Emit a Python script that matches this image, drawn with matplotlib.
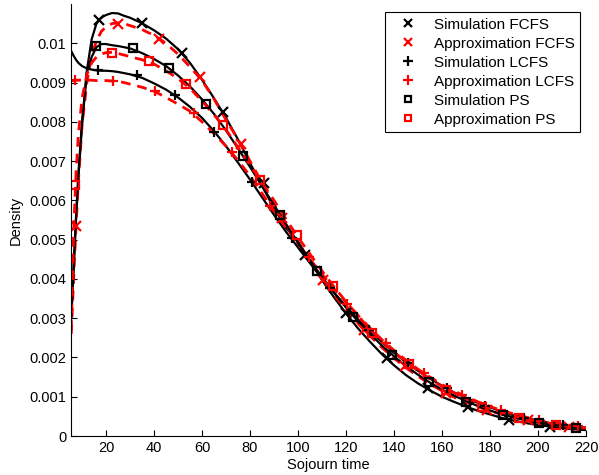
import numpy as np
import matplotlib.pyplot as plt
from matplotlib.ticker import FormatStrFormatter

# x grid for the density curves
x_curve = [5.5, 6.5, 7.5, 8.5, 10, 12, 14, 16, 18, 20, 22.5, 25, 27.5, 30,
           35, 40, 45, 50, 55, 60, 65, 70, 75, 80, 85, 90, 95, 100, 105, 110,
           115, 120, 125, 130, 135, 140, 145, 150, 155, 160, 165, 170, 175,
           180, 185, 190, 195, 200, 205, 210, 215, 220]

# densities (x 1e-3)
fcfs_sim = [3.0, 4.3, 5.5, 6.6, 7.9, 9.3, 10.1, 10.5, 10.65, 10.72, 10.77, 10.76, 10.7, 10.65,
            10.51, 10.33, 10.12, 9.85, 9.5, 9.07, 8.6, 8.1, 7.55, 6.95, 6.37, 5.8, 5.3, 4.95,
            4.45, 3.97, 3.53, 3.12, 2.74, 2.4, 2.08, 1.8, 1.55, 1.34, 1.16, 1.0, 0.87, 0.75,
            0.64, 0.55, 0.46, 0.39, 0.33, 0.28, 0.24, 0.2, 0.17, 0.15]
fcfs_apx = [2.6, 4.0, 5.34, 6.5, 7.9, 9.0, 9.7, 10.05, 10.3, 10.42, 10.5, 10.52, 10.5, 10.45,
            10.35, 10.2, 10.0, 9.72, 9.4, 9.05, 8.58, 8.05, 7.55, 7.0, 6.45, 5.9, 5.38, 4.9,
            4.45, 4.0, 3.6, 3.22, 2.87, 2.55, 2.25, 1.98, 1.74, 1.52, 1.32, 1.15, 0.99, 0.86,
            0.74, 0.64, 0.55, 0.47, 0.41, 0.35, 0.3, 0.26, 0.23, 0.2]
lcfs_sim = [9.8, 9.68, 9.58, 9.5, 9.42, 9.36, 9.33, 9.31, 9.3, 9.3, 9.29, 9.27, 9.24, 9.21,
            9.12, 8.98, 8.82, 8.62, 8.38, 8.1, 7.76, 7.38, 6.96, 6.53, 6.08, 5.63, 5.2, 4.8,
            4.4, 4.02, 3.65, 3.3, 2.97, 2.67, 2.39, 2.12, 1.88, 1.66, 1.46, 1.28, 1.11, 0.97,
            0.84, 0.73, 0.62, 0.53, 0.46, 0.39, 0.33, 0.28, 0.24, 0.21]
lcfs_apx = [9.05, 9.05, 9.06, 9.06, 9.06, 9.06, 9.06, 9.05, 9.05, 9.05, 9.04, 9.03, 9.0, 8.96,
            8.88, 8.78, 8.62, 8.45, 8.27, 8.0, 7.7, 7.38, 7.02, 6.62, 6.18, 5.73, 5.3, 4.9,
            4.5, 4.12, 3.75, 3.4, 3.07, 2.75, 2.45, 2.18, 1.93, 1.7, 1.5, 1.31, 1.15, 1.0,
            0.87, 0.75, 0.65, 0.56, 0.48, 0.41, 0.35, 0.3, 0.26, 0.22]
ps_sim = [3.0, 4.3, 5.6, 6.7, 8.0, 9.25, 9.65, 9.9, 9.98, 9.98, 9.95, 9.93, 9.9, 9.87,
          9.75, 9.6, 9.42, 9.18, 8.9, 8.57, 8.2, 7.78, 7.32, 6.85, 6.36, 5.88, 5.4, 4.92,
          4.47, 4.05, 3.65, 3.27, 2.92, 2.6, 2.3, 2.03, 1.78, 1.56, 1.36, 1.18, 1.03, 0.89,
          0.76, 0.65, 0.55, 0.47, 0.4, 0.34, 0.29, 0.25, 0.21, 0.18]
ps_apx = [2.7, 5.2, 6.7, 7.7, 8.6, 9.2, 9.5, 9.65, 9.73, 9.76, 9.77, 9.74, 9.7, 9.66,
          9.58, 9.47, 9.3, 9.1, 8.85, 8.53, 8.18, 7.8, 7.35, 6.9, 6.45, 6.0, 5.52, 5.06,
          4.63, 4.2, 3.8, 3.42, 3.06, 2.72, 2.42, 2.14, 1.89, 1.66, 1.45, 1.26, 1.1, 0.95,
          0.82, 0.7, 0.6, 0.51, 0.44, 0.37, 0.32, 0.27, 0.23, 0.2]

# marker positions (x, density x 1e-3)
fcfs_sim_mx = [17.2, 34.9, 51.5, 68.6, 85.7, 102.9, 120, 137, 154, 171, 188, 205]
fcfs_sim_my = [10.59, 10.51, 9.74, 8.25, 6.45, 4.6, 3.12, 1.99, 1.22, 0.73, 0.41, 0.24]
fcfs_apx_mx = [7.5, 24.9, 42.1, 59.2, 76.3, 93.4, 110.5, 127.6, 144.7, 161.8, 178.9, 196, 213]
fcfs_apx_my = [5.34, 10.5, 10.12, 9.14, 7.44, 5.55, 3.96, 2.7, 1.77, 1.1, 0.67, 0.4, 0.24]
lcfs_sim_mx = [16.5, 32.8, 48.8, 65.1, 81, 97.4, 113.3, 129.5, 145.7, 161.9, 178, 194.2, 210.4]
lcfs_sim_my = [9.31, 9.18, 8.68, 7.75, 6.46, 5.04, 3.77, 2.7, 1.85, 1.22, 0.77, 0.47, 0.28]
lcfs_apx_mx = [7.1, 23.1, 40.5, 56.5, 72.5, 88.5, 104.5, 120.5, 136.5, 152.5, 168.5, 184.5, 200.5, 216.5]
lcfs_apx_my = [9.06, 9.04, 8.78, 8.23, 7.23, 5.85, 4.57, 3.37, 2.37, 1.6, 1.05, 0.66, 0.41, 0.25]
ps_sim_mx = [15.8, 31.1, 46.4, 61.5, 77.2, 92.5, 108, 123, 139.2, 154.6, 170, 185.3, 200.5, 216]
ps_sim_my = [9.93, 9.87, 9.38, 8.46, 7.13, 5.64, 4.2, 3.04, 2.07, 1.38, 0.875, 0.536, 0.34, 0.2]
ps_apx_mx = [7.1, 22.4, 37.9, 53.3, 68.9, 84.2, 99.4, 114.7, 130.9, 146.25, 161.5, 176.8, 192, 207.4]
ps_apx_my = [6.39, 9.76, 9.55, 8.97, 7.91, 6.53, 5.11, 3.81, 2.63, 1.83, 1.17, 0.75, 0.47, 0.28]

labels = ['Simulation FCFS', 'Approximation FCFS', 'Simulation LCFS',
          'Approximation LCFS', 'Simulation PS', 'Approximation PS']

plt.rcParams['font.family'] = ['Liberation Sans', 'DejaVu Sans']
plt.rcParams['font.size'] = 10

fig = plt.figure(figsize=(5.99, 4.75), dpi=100)
ax = fig.add_axes([71 / 599, 39 / 475, 515 / 599, 432 / 475])

xc = np.array(x_curve)
scale = 1e-3
sim_style = dict(color='black', lw=1.6, ls='-')
apx_style = dict(color='red', lw=2.0, ls=(0, (3.5, 2.5)))

# curves
for ys, st in [(fcfs_sim, sim_style), (fcfs_apx, apx_style), (lcfs_sim, sim_style),
               (lcfs_apx, apx_style), (ps_sim, sim_style), (ps_apx, apx_style)]:
    ax.plot(xc, np.array(ys) * scale, **st)

# markers (these carry the legend)
markers = [(fcfs_sim_mx, fcfs_sim_my, 'x', 'black'), (fcfs_apx_mx, fcfs_apx_my, 'x', 'red'),
           (lcfs_sim_mx, lcfs_sim_my, '+', 'black'), (lcfs_apx_mx, lcfs_apx_my, '+', 'red'),
           (ps_sim_mx, ps_sim_my, 's', 'black'), (ps_apx_mx, ps_apx_my, 's', 'red')]
sizes = {'x': 6.5, '+': 7.5, 's': 5.3}
handles = []
for (mx, my, m, c), lab in zip(markers, labels):
    h, = ax.plot(mx, np.array(my) * scale, ls='none', marker=m, ms=sizes[m], mew=1.6,
                 mec=c, mfc='none', label=lab)
    handles.append(h)

ax.set_xlim(5.4, 220)
ax.set_ylim(0, 0.011)
ax.set_xticks(np.arange(20, 221, 20))
ax.set_yticks(np.arange(0, 0.0101, 0.001))
ax.yaxis.set_major_formatter(FormatStrFormatter('%g'))
ax.tick_params(direction='in', length=4, width=0.8, labelsize=10.5)
ax.spines['top'].set_visible(False)
ax.spines['right'].set_visible(False)
ax.set_xlabel('Sojourn time', labelpad=2, fontsize=10.5)
ax.set_ylabel('Density', labelpad=5, fontsize=10.5)

leg = ax.legend(handles=handles, loc='upper right', bbox_to_anchor=(0.988, 0.981),
                borderaxespad=0, fancybox=False, framealpha=1, edgecolor='black',
                fontsize=11, labelspacing=0.33, handlelength=2.2, handletextpad=0.6,
                borderpad=0.35, markerscale=0.9)
leg.get_frame().set_linewidth(0.8)

fig.savefig('out.png', dpi=100)
